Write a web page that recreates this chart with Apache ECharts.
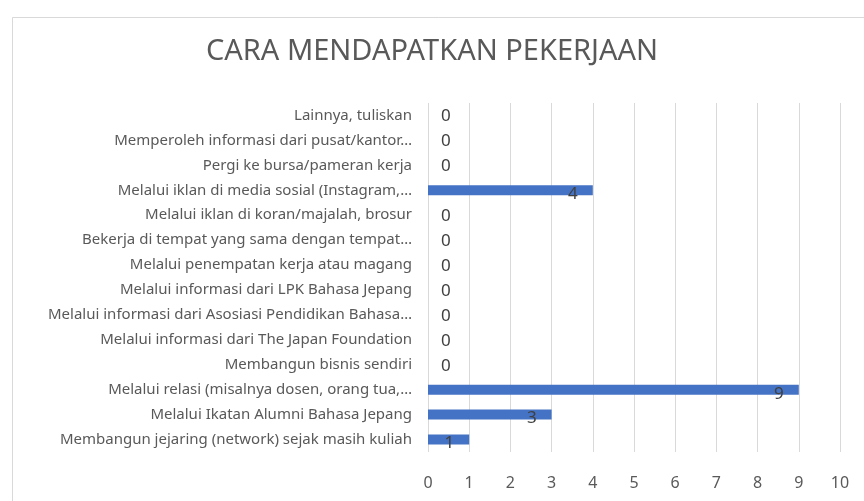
<!DOCTYPE html>
<html>
<head>
<meta charset="utf-8">
<script src="https://cdn.jsdelivr.net/npm/echarts@6/dist/echarts.min.js"></script>
<style>
  html, body { margin: 0; padding: 0; background: #fff; }
  #chart { width: 864px; height: 501px; }
</style>
</head>
<body>
<div id="chart"></div>
<script>
// categories, bottom to top (as the category axis draws them)
var categories = [
  'Membangun jejaring (network) sejak masih kuliah',
  'Melalui Ikatan Alumni Bahasa Jepang',
  'Melalui relasi (misalnya dosen, orang tua,…',
  'Membangun bisnis sendiri',
  'Melalui informasi dari The Japan Foundation',
  'Melalui informasi dari Asosiasi Pendidikan Bahasa…',
  'Melalui informasi dari LPK Bahasa Jepang',
  'Melalui penempatan kerja atau magang',
  'Bekerja di tempat yang sama dengan tempat…',
  'Melalui iklan di koran/majalah, brosur',
  'Melalui iklan di media sosial (Instagram,…',
  'Pergi ke bursa/pameran kerja',
  'Memperoleh informasi dari pusat/kantor…',
  'Lainnya, tuliskan'
];
var counts = [1, 3, 9, 0, 0, 0, 0, 0, 0, 0, 4, 0, 0, 0];
var xTicks = [0, 1, 2, 3, 4, 5, 6, 7, 8, 9, 10];

var grey = '#595959';

var chart = echarts.init(document.getElementById('chart'));

// zero values get their label right of the axis, others sit inside the bar end
var barData = counts.map(function (v) {
  var lbl = v === 0
    ? { position: 'right', offset: [8, 1] }
    : { position: 'insideRight', offset: [-10, 4] };
  return { value: v, label: lbl };
});

var option = {
  animation: false,
  backgroundColor: '#fff',
  graphic: [{
    type: 'rect',
    left: 10, top: 15,
    shape: { width: 870, height: 500 },
    style: { fill: 'none', stroke: '#d9d9d9', lineWidth: 1 },
    silent: true
  }],
  title: {
    text: 'CARA MENDAPATKAN PEKERJAAN',
    left: 'center',
    top: 32,
    textStyle: { fontFamily: 'Noto Sans', fontSize: 29, fontWeight: 'normal', color: grey }
  },
  grid: { left: 428, right: 24, top: 103, bottom: 49 },
  xAxis: {
    type: 'value',
    min: 0, max: 10, interval: 1,
    axisLine: { show: false },
    axisTick: { show: false },
    splitLine: { lineStyle: { color: '#d9d9d9', width: 1 } },
    axisLabel: {
      margin: 23,
      fontFamily: 'Noto Sans', fontSize: 16, color: grey,
      formatter: function (v) { return xTicks.indexOf(v) >= 0 ? String(v) : ''; }
    }
  },
  yAxis: {
    type: 'category',
    data: categories,
    axisLine: { show: false },
    axisTick: { show: false },
    axisLabel: { margin: 16, fontFamily: 'Noto Sans', fontSize: 15, color: grey }
  },
  series: [{
    type: 'bar',
    data: barData,
    barWidth: 10,
    itemStyle: { color: '#4472C4' },
    label: {
      show: true,
      fontFamily: 'Noto Sans', fontSize: 17, color: '#404040'
    }
  }]
};

chart.setOption(option);
</script>
</body>
</html>
